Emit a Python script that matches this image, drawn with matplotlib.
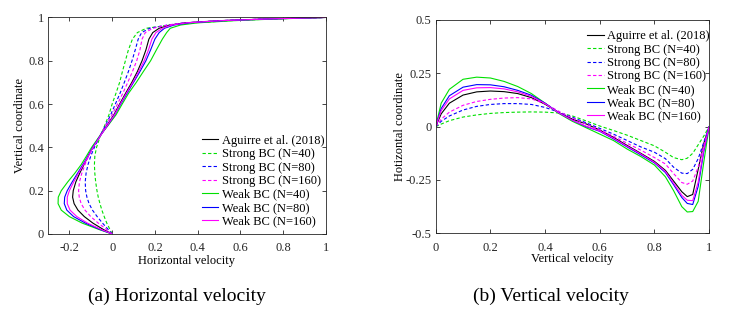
import matplotlib
matplotlib.use("Agg")
import matplotlib.pyplot as plt
from matplotlib.ticker import FuncFormatter

plt.rcParams['font.family'] = ['Liberation Serif', 'DejaVu Serif']
plt.rcParams['axes.unicode_minus'] = False
plt.rcParams['font.size'] = 9

# legend labels (same order in both panels)
labels = ["Aguirre et al. (2018)", "Strong BC (N=40)", "Strong BC (N=80)",
          "Strong BC (N=160)", "Weak BC (N=40)", "Weak BC (N=80)", "Weak BC (N=160)"]

# (a) horizontal velocity u along the vertical line, y = vertical coordinate
y_left = [0, 0.02, 0.05, 0.08, 0.11, 0.14, 0.17, 0.2, 0.24, 0.28, 0.32, 0.36, 0.4, 0.45, 0.5,
          0.55, 0.6, 0.65, 0.7, 0.75, 0.8, 0.85, 0.9, 0.93, 0.95, 0.965, 0.975, 0.985, 0.993, 1.0]
u_ref = [0, -0.04, -0.09, -0.13, -0.16, -0.178, -0.185, -0.182, -0.17, -0.152, -0.132, -0.112, -0.09, -0.058, -0.025,
         0.008, 0.035, 0.063, 0.092, 0.118, 0.14, 0.158, 0.172, 0.19, 0.22, 0.27, 0.34, 0.5, 0.72, 1.0]
u_s40 = [0, -0.01, -0.025, -0.037, -0.048, -0.057, -0.065, -0.071, -0.077, -0.081, -0.083, -0.081, -0.073, -0.056, -0.035,
         -0.015, 0.0, 0.018, 0.035, 0.048, 0.062, 0.076, 0.095, 0.118, 0.16, 0.27, 0.38, 0.55, 0.75, 1.0]
u_s80 = [0, -0.018, -0.045, -0.07, -0.092, -0.108, -0.118, -0.124, -0.126, -0.122, -0.113, -0.1, -0.083, -0.058, -0.032,
         -0.007, 0.015, 0.037, 0.057, 0.076, 0.093, 0.108, 0.122, 0.138, 0.175, 0.26, 0.34, 0.5, 0.72, 1.0]
u_s160 = [0, -0.025, -0.065, -0.1, -0.127, -0.145, -0.154, -0.157, -0.153, -0.142, -0.127, -0.11, -0.09, -0.06, -0.03,
          0.0, 0.025, 0.05, 0.073, 0.095, 0.115, 0.13, 0.14, 0.155, 0.19, 0.26, 0.34, 0.5, 0.72, 1.0]
u_w40 = [0, -0.06, -0.14, -0.2, -0.238, -0.253, -0.252, -0.238, -0.208, -0.175, -0.145, -0.12, -0.096, -0.06, -0.02,
         0.018, 0.047, 0.077, 0.113, 0.146, 0.18, 0.207, 0.235, 0.255, 0.272, 0.32, 0.4, 0.57, 0.77, 1.0]
u_w80 = [0, -0.055, -0.125, -0.18, -0.212, -0.224, -0.222, -0.21, -0.187, -0.162, -0.137, -0.113, -0.09, -0.058, -0.022,
         0.012, 0.04, 0.07, 0.1, 0.13, 0.158, 0.18, 0.2, 0.22, 0.245, 0.29, 0.36, 0.52, 0.74, 1.0]
u_w160 = [0, -0.05, -0.115, -0.165, -0.197, -0.21, -0.21, -0.2, -0.18, -0.158, -0.134, -0.111, -0.089, -0.057, -0.023,
          0.011, 0.038, 0.067, 0.097, 0.124, 0.15, 0.17, 0.186, 0.205, 0.235, 0.28, 0.35, 0.51, 0.73, 1.0]

# (b) vertical velocity v along the horizontal line, x = horizontal coordinate
x_right = [0, 0.02, 0.05, 0.1, 0.15, 0.2, 0.25, 0.3, 0.35, 0.4, 0.45, 0.5, 0.55, 0.6, 0.65,
           0.7, 0.75, 0.8, 0.84, 0.87, 0.9, 0.92, 0.94, 0.96, 0.98, 1.0]
v_ref = [0, 0.06, 0.11, 0.148, 0.163, 0.167, 0.164, 0.155, 0.136, 0.105, 0.066, 0.035, 0.013, -0.016, -0.05,
         -0.088, -0.125, -0.163, -0.205, -0.255, -0.305, -0.328, -0.318, -0.2, -0.08, 0]
v_s40 = [0, 0.012, 0.028, 0.045, 0.055, 0.062, 0.066, 0.068, 0.069, 0.068, 0.064, 0.05, 0.027, 0.003, -0.018,
         -0.04, -0.065, -0.09, -0.12, -0.145, -0.155, -0.148, -0.125, -0.085, -0.045, 0]
v_s80 = [0, 0.025, 0.05, 0.078, 0.095, 0.104, 0.108, 0.108, 0.104, 0.09, 0.068, 0.044, 0.018, -0.008, -0.035,
         -0.065, -0.095, -0.12, -0.15, -0.19, -0.218, -0.22, -0.2, -0.15, -0.075, 0]
v_s160 = [0, 0.035, 0.068, 0.1, 0.118, 0.128, 0.134, 0.136, 0.13, 0.108, 0.072, 0.04, 0.012, -0.015, -0.045,
          -0.078, -0.11, -0.145, -0.175, -0.22, -0.262, -0.27, -0.255, -0.19, -0.09, 0]
v_w40 = [0, 0.11, 0.175, 0.222, 0.232, 0.228, 0.212, 0.188, 0.155, 0.11, 0.062, 0.025, -0.005, -0.035, -0.065,
         -0.105, -0.14, -0.18, -0.235, -0.3, -0.375, -0.4, -0.398, -0.35, -0.17, 0]
v_w80 = [0, 0.085, 0.145, 0.185, 0.197, 0.196, 0.187, 0.17, 0.147, 0.11, 0.065, 0.03, 0.0, -0.022, -0.057,
         -0.095, -0.132, -0.17, -0.215, -0.272, -0.332, -0.36, -0.365, -0.28, -0.12, 0]
v_w160 = [0, 0.075, 0.13, 0.17, 0.182, 0.183, 0.177, 0.163, 0.142, 0.108, 0.065, 0.03, 0.002, -0.02, -0.054,
          -0.092, -0.128, -0.167, -0.21, -0.265, -0.322, -0.345, -0.347, -0.26, -0.11, 0]

colors = ["k", "#00e000", "#0000ff", "#ff00ff", "#00e000", "#0000ff", "#ff00ff"]
dash = (0, (3.0, 2.0))
styles = ["-", dash, dash, dash, "-", "-", "-"]

fig = plt.figure(figsize=(7.41, 3.17), dpi=100)
ax1 = fig.add_axes([0.0648, 0.262, 0.375, 0.683])
ax2 = fig.add_axes([0.588, 0.264, 0.369, 0.673])

fmt = FuncFormatter(lambda v, p: "%g" % round(v, 3))

left_series = [u_ref, u_s40, u_s80, u_s160, u_w40, u_w80, u_w160]
for u, c, ls, lab in zip(left_series, colors, styles, labels):
    ax1.plot(u, y_left, color=c, ls=ls, lw=0.8, label=lab)

right_series = [v_ref, v_s40, v_s80, v_s160, v_w40, v_w80, v_w160]
for v, c, ls, lab in zip(right_series, colors, styles, labels):
    ax2.plot(x_right, v, color=c, ls=ls, lw=0.8, label=lab)

ax1.set_xlim(-0.3, 1)
ax1.set_ylim(0, 1)
ax1.set_xticks([-0.2, 0, 0.2, 0.4, 0.6, 0.8, 1])
ax1.set_yticks([0, 0.2, 0.4, 0.6, 0.8, 1])
ax1.set_xlabel("Horizontal velocity", fontsize=9)
ax1.set_ylabel("Vertical coordinate", fontsize=9)
ax1.xaxis.set_label_coords(0.5, -0.097)
ax1.yaxis.set_label_coords(-0.078, 0.5)

ax2.set_xlim(0, 1)
ax2.set_ylim(-0.5, 0.5)
ax2.set_xticks([0, 0.2, 0.4, 0.6, 0.8, 1])
ax2.set_yticks([-0.5, -0.25, 0, 0.25, 0.5])
ax2.set_xlabel("Vertical velocity", fontsize=9)
ax2.set_ylabel("Hotizontal coordinate", fontsize=9)
ax2.xaxis.set_label_coords(0.5, -0.092)
ax2.yaxis.set_label_coords(-0.108, 0.5)

for ax in (ax1, ax2):
    ax.xaxis.set_major_formatter(fmt)
    ax.yaxis.set_major_formatter(fmt)
    ax.tick_params(direction="in", top=True, right=True, length=3, width=0.6,
                   labelsize=9, colors="#262626", pad=3)
    ax.tick_params(axis="x", pad=6)
    for s in ax.spines.values():
        s.set_linewidth(0.6)
        s.set_color("#262626")

leg_kw = dict(frameon=False, fontsize=9, handlelength=1.35, handletextpad=0.25,
              labelspacing=0.115, borderpad=0, borderaxespad=0)
fig.legend(*ax1.get_legend_handles_labels(), loc="upper left",
           bbox_to_anchor=(0.272, 0.575), **leg_kw)
fig.legend(*ax2.get_legend_handles_labels(), loc="upper left",
           bbox_to_anchor=(0.792, 0.905), **leg_kw)

fig.text(0.239, 0.064, "(a) Horizontal velocity", ha="center", va="center", fontsize=14)
fig.text(0.744, 0.064, "(b) Vertical velocity", ha="center", va="center", fontsize=14)

fig.savefig("out.png", dpi=100, facecolor="white")
